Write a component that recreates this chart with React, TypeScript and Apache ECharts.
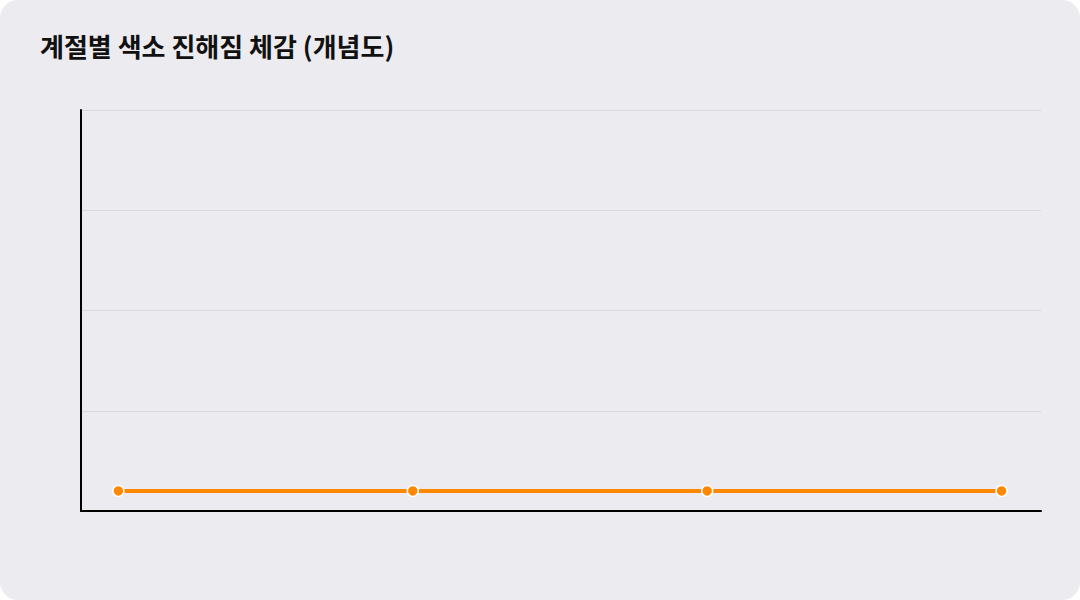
import React, { useEffect, useRef } from "react";
import * as echarts from "echarts";

const seasons = ["봄", "여름", "가을", "겨울"];
const intensity = [5, 5, 5, 5];
const yMax = 100;
const yInterval = 25;

export default function App() {
  const ref = useRef<HTMLDivElement>(null);
  useEffect(() => {
    document.body.style.margin = "0";
    const chart = echarts.init(ref.current!, null, { renderer: "svg" });
    chart.setOption({
      animation: false,
      backgroundColor: "transparent",
      title: {
        text: "계절별 색소 진해짐 체감 (개념도)",
        left: 35,
        top: 27,
        textStyle: {
          fontFamily: "Noto Sans CJK KR",
          fontSize: 26,
          fontWeight: "bold",
          color: "#111111",
        },
      },
      grid: { left: 81, right: 39, top: 110, bottom: 89 },
      xAxis: {
        type: "value",
        min: -0.127,
        max: 3.134,
        axisLine: { show: true, onZero: false, lineStyle: { color: "#000000", width: 2 } },
        axisTick: { show: false },
        axisLabel: { show: false },
        splitLine: { show: false },
      },
      yAxis: {
        type: "value",
        min: 0,
        max: yMax,
        interval: yInterval,
        axisLine: { show: true, onZero: false, lineStyle: { color: "#000000", width: 2 } },
        axisTick: { show: false },
        axisLabel: { show: false },
        splitLine: { show: true, lineStyle: { color: "#d9d8de", width: 1 } },
      },
      series: [
        {
          type: "line",
          name: "색소 진해짐",
          data: intensity.map((v, i) => ({ value: [i, v], name: seasons[i] })),
          lineStyle: { color: "#ff8800", width: 4 },
          itemStyle: { color: "#ff8800", borderColor: "#ffffff", borderWidth: 1.5 },
          symbol: "circle",
          symbolSize: 11,
        },
      ],
    });
    return () => chart.dispose();
  }, []);
  return (
    <div
      style={{
        position: "fixed",
        left: 0,
        top: 0,
        width: 1080,
        height: 600,
        background: "#ffffff",
      }}
    >
      <div
        style={{
          width: 1080,
          height: 600,
          background: "#ecebf0",
          borderRadius: 18,
          overflow: "hidden",
        }}
      >
        <div ref={ref} style={{ width: 1080, height: 600 }} />
      </div>
    </div>
  );
}
